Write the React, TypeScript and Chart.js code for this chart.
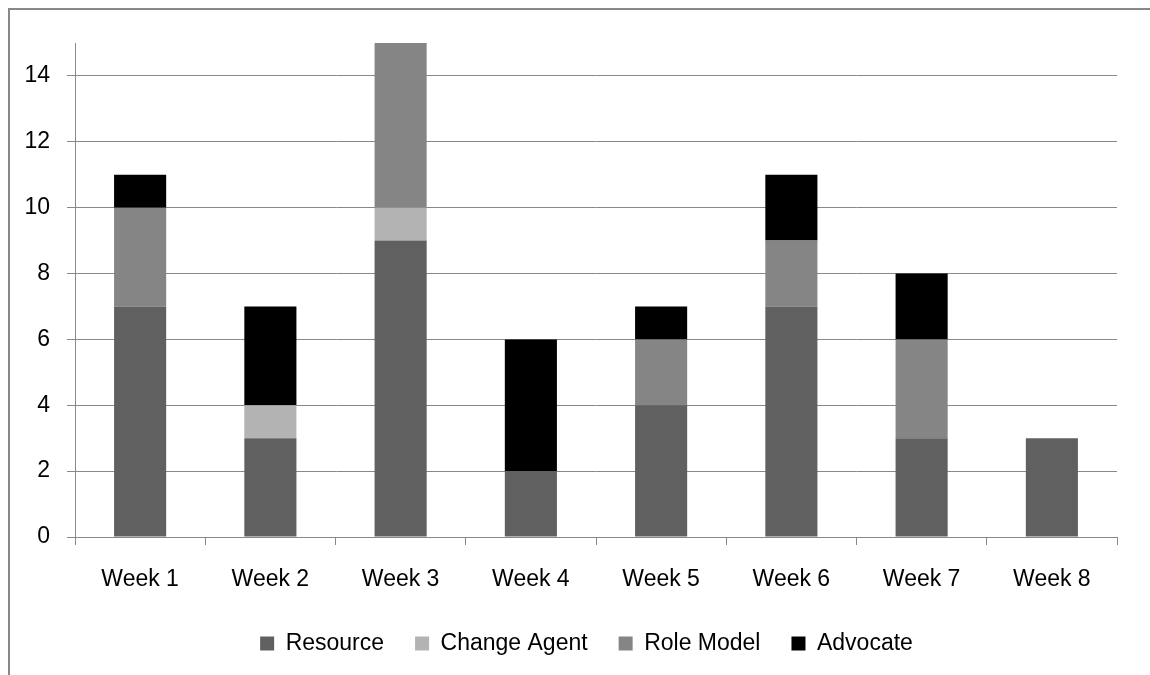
import React, { useEffect, useRef } from "react";
import { Chart, registerables } from "chart.js";

Chart.register(...registerables);

const categories = ["Week 1", "Week 2", "Week 3", "Week 4", "Week 5", "Week 6", "Week 7", "Week 8"];
const resource = [7, 3, 9, 2, 4, 7, 3, 3];
const changeAgent = [0, 1, 1, 0, 0, 0, 0, 0];
const roleModel = [3, 0, 5, 0, 2, 2, 3, 0];
const advocate = [1, 3, 0, 4, 1, 2, 2, 0];

const FONT = "'Liberation Sans', Arial, sans-serif";
const FS = 23;

const shiftLegend = {
  id: "shiftLegend",
  afterLayout(chart: any) {
    const l = chart.legend;
    if (l) {
      l.left += 23;
      l.right += 23;
    }
  },
};

export default function App() {
  const ref = useRef<HTMLCanvasElement | null>(null);

  useEffect(() => {
    if (!ref.current) return;
    const chart = new Chart(ref.current, {
      type: "bar",
      data: {
        labels: categories,
        datasets: [
          { label: "Resource", data: resource, backgroundColor: "#606060" },
          { label: "Change Agent", data: changeAgent, backgroundColor: "#b3b3b3" },
          { label: "Role Model", data: roleModel, backgroundColor: "#858585" },
          { label: "Advocate", data: advocate, backgroundColor: "#000000" },
        ],
      },
      plugins: [shiftLegend],
      options: {
        animation: false,
        responsive: false,
        maintainAspectRatio: false,
        layout: { padding: { left: 10, top: 43, right: 33, bottom: 10 } },
        datasets: { bar: { barPercentage: 0.4, categoryPercentage: 1 } },
        plugins: {
          legend: {
            position: "bottom",
            labels: {
              boxWidth: 14,
              boxHeight: 14,
              padding: 31,
              color: "#000",
              font: { family: FONT, size: FS },
            },
          },
          tooltip: { enabled: false },
        },
        scales: {
          x: {
            stacked: true,
            grid: {
              drawOnChartArea: false,
              drawTicks: true,
              tickLength: 8,
              color: "#888",
              offset: true,
            },
            border: { display: true, color: "#888", width: 1 },
            ticks: { color: "#000", font: { family: FONT, size: FS }, padding: 21, maxRotation: 0 },
            afterFit: (s: any) => {
              s.height = 64;
            },
          },
          y: {
            stacked: true,
            min: 0,
            max: 15,
            grid: { color: "#888", tickLength: 8, lineWidth: 1 },
            border: { display: true, color: "#888", width: 1 },
            ticks: {
              stepSize: 2,
              color: "#000",
              font: { family: FONT, size: FS },
              padding: 17,
            },
            afterBuildTicks: (s: any) => {
              s.ticks = s.ticks.filter((t: any) => t.value % 2 === 0);
            },
            afterFit: (s: any) => {
              s.width = 65;
            },
          },
        },
      },
    });
    return () => chart.destroy();
  }, []);

  return (
    <div style={{ position: "absolute", left: 0, top: 0, width: 1150, height: 675, overflow: "hidden", background: "#fff" }}>
      <div
        style={{
          position: "absolute",
          left: 8,
          top: 8,
          width: 1300,
          height: 700,
          borderLeft: "2px solid #888",
          borderTop: "2px solid #888",
        }}
      />
      <canvas ref={ref} width={1150} height={675} style={{ position: "absolute", left: 0, top: 0 }} />
    </div>
  );
}
